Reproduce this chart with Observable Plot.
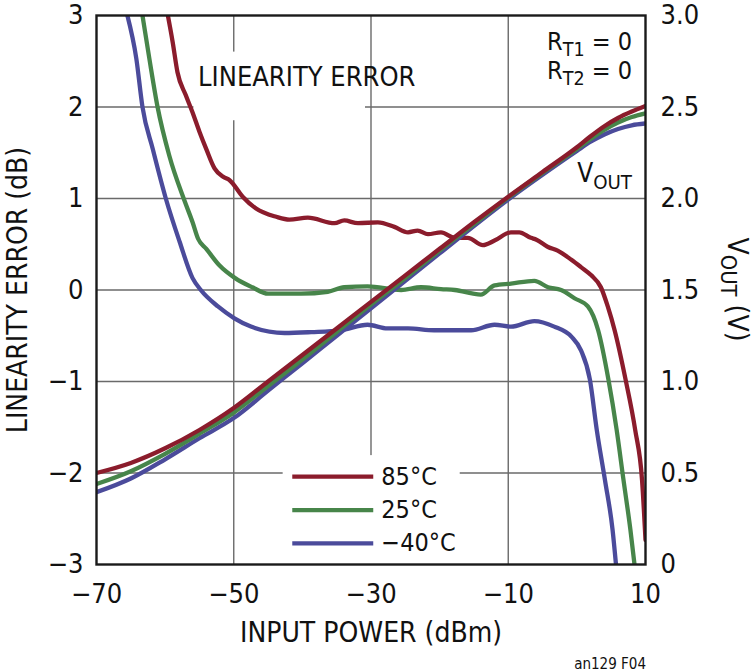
<!DOCTYPE html>
<html>
<head>
<meta charset="utf-8">
<script src="https://cdn.jsdelivr.net/npm/d3@7"></script>
<script src="https://cdn.jsdelivr.net/npm/@observablehq/plot@0.6"></script>
<style>
  html, body { margin: 0; padding: 0; background: #fff; }
  #chart { width: 754px; height: 672px; }
</style>
</head>
<body>
<div id="chart"></div>
<script>
// ---- data ----
const xTicks = [-70, -50, -30, -10, 10];
const yErrTicks = [-3, -2, -1, 0, 1, 2, 3];
const voutTickLabels = ["0", "0.5", "1.0", "1.5", "2.0", "2.5", "3.0"];
const seriesNames = ["85°C", "25°C", "−40°C"];
const seriesColors = ["#8b1c2c", "#47854a", "#4b4b9b"];

// Linearity error (dB) vs input power (dBm)
const err85 = [[-59.6,3.0],[-58.9,2.71],[-58.2,2.38],[-57.0,2.13],[-56.0,1.94],[-55.0,1.73],[-54.0,1.54],[-52.8,1.33],[-51.6,1.24],[-50.6,1.20],[-48.7,1.02],[-46.75,0.89],[-43.8,0.80],[-41.9,0.77],[-39.2,0.79],[-35.3,0.73],[-33.9,0.76],[-31.9,0.73],[-29.0,0.74],[-26.6,0.69],[-24.6,0.63],[-23.2,0.65],[-21.7,0.61],[-19.8,0.63],[-17.8,0.57],[-15.9,0.57],[-13.7,0.49],[-12.0,0.54],[-9.6,0.63],[-8.4,0.63],[-6.7,0.57],[-5.9,0.55],[-4.2,0.47],[-2.8,0.43],[-0.8,0.33],[0.6,0.25],[2.1,0.16],[3.5,0.03],[4.5,-0.18],[5.5,-0.44],[7.1,-0.98],[8.5,-1.53],[9.5,-2.08],[10,-2.73]];
const err25 = [[-63.3,3.0],[-62.3,2.53],[-61.1,2.0],[-59.4,1.47],[-57.2,0.98],[-56.0,0.74],[-55.2,0.56],[-54.0,0.45],[-52.1,0.27],[-49.8,0.13],[-47.3,0.03],[-45.0,-0.04],[-40.2,-0.04],[-36.3,-0.02],[-33.9,0.03],[-30.5,0.04],[-25.6,0.0],[-22.7,0.03],[-19.8,0.01],[-17.8,0.0],[-14.0,-0.05],[-12.0,0.05],[-9.6,0.07],[-6.2,0.10],[-4.2,0.03],[-2.3,0.0],[-0.35,-0.09],[1.6,-0.18],[3.1,-0.44],[4.6,-0.98],[5.8,-1.53],[6.8,-2.08],[7.8,-2.62],[8.4,-3.0]];
const errM40 = [[-65.5,3.0],[-64.2,2.53],[-63.3,2.0],[-61.8,1.54],[-59.9,1.0],[-57.9,0.53],[-56.0,0.13],[-54.8,0.0],[-52.3,-0.18],[-49.9,-0.31],[-47.5,-0.40],[-42.6,-0.47],[-38.7,-0.46],[-34.4,-0.44],[-30.5,-0.38],[-27.6,-0.42],[-24.6,-0.42],[-20.8,-0.44],[-15.4,-0.44],[-12.0,-0.38],[-9.6,-0.40],[-6.2,-0.34],[-3.3,-0.40],[-0.8,-0.51],[0.6,-0.66],[1.9,-0.98],[2.9,-1.53],[4.1,-2.08],[5.2,-2.62],[5.7,-3.0]];

// VOUT (V) vs input power (dBm)
const vout85 = [[-70,0.50],[-65,0.555],[-60,0.635],[-55,0.735],[-50,0.855],[-45,1.0],[-40,1.145],[-35,1.29],[-30,1.435],[-25,1.58],[-20,1.725],[-15,1.87],[-10,2.01],[-5,2.145],[0,2.28],[2,2.34],[4,2.395],[6,2.44],[8,2.475],[10,2.505]];
const vout25 = [[-70,0.44],[-65,0.51],[-60,0.605],[-55,0.715],[-50,0.83],[-45,0.975],[-40,1.12],[-35,1.27],[-30,1.42],[-25,1.565],[-20,1.715],[-15,1.86],[-10,2.005],[-5,2.14],[0,2.27],[2,2.325],[4,2.375],[6,2.415],[8,2.445],[10,2.465]];
const voutM40 = [[-70,0.395],[-65,0.47],[-60,0.575],[-55,0.69],[-50,0.80],[-45,0.95],[-40,1.10],[-35,1.25],[-30,1.40],[-25,1.55],[-20,1.70],[-15,1.85],[-10,1.995],[-5,2.13],[0,2.26],[2,2.31],[4,2.35],[6,2.38],[8,2.40],[10,2.41]];

// ---- build tables ----
const errSeries = [err85, err25, errM40];
const voutSeries = [vout85, vout25, voutM40];
// right axis maps VOUT 0..3 V onto the left scale -3..3 dB
const voutToErr = v => v * 2 - 3;

const errRows = [];
errSeries.forEach((s, i) => s.forEach(([x, y]) => errRows.push({x, y, name: seriesNames[i]})));
const voutRows = [];
voutSeries.forEach((s, i) => s.forEach(([x, v]) => voutRows.push({x, y: voutToErr(v), name: seriesNames[i]})));
const drawOrder = [2, 1, 0]; // blue, green, red on top

const legendRows = seriesNames.map((name, i) => ({name, color: seriesColors[i], y: -2.04 - i * 0.365}));

const FONT = "'Liberation Sans Narrow', 'Arial Narrow', 'DejaVu Sans Condensed', sans-serif";
const fmtMinus = d => (d < 0 ? "\u2212" + Math.abs(d) : String(d));

const marks = [
  Plot.gridX([-50, -30, -10], {stroke: "#6a6a6a", strokeOpacity: 1, strokeWidth: 1.4}),
  Plot.gridY([-2, -1, 0, 1, 2], {stroke: "#6a6a6a", strokeOpacity: 1, strokeWidth: 1.4}),
  // white boxes behind in-plot text
  Plot.rect([{x1: -42.8, x2: -17.0, y1: -3, y2: -1.81}], {x1: "x1", x2: "x2", y1: "y1", y2: "y2", fill: "white"}),
  Plot.rect([{x1: -55.8, x2: -30.8, y1: 1.85, y2: 2.6}], {x1: "x1", x2: "x2", y1: "y1", y2: "y2", fill: "white"}),
];
for (const i of drawOrder) {
  marks.push(Plot.line(errRows.filter(d => d.name === seriesNames[i]), {x: "x", y: "y", stroke: seriesColors[i], strokeWidth: 4.3, curve: "monotone-x", clip: true}));
}
for (const i of drawOrder) {
  marks.push(Plot.line(voutRows.filter(d => d.name === seriesNames[i]), {x: "x", y: "y", stroke: seriesColors[i], strokeWidth: 4.3, curve: "monotone-x", clip: true}));
}
marks.push(
  // legend
  Plot.ruleY(legendRows, {y: "y", x1: -41.4, x2: -29.6, stroke: "color", strokeWidth: 4.3}),
  Plot.text(legendRows, {y: "y", x: -28.5, text: "name", textAnchor: "start", fontSize: 25, fill: "#111"}),
  Plot.text(["LINEARITY ERROR"], {x: -55.2, y: 2.32, textAnchor: "start", fontSize: 27, fill: "#111"}),
  Plot.axisX({ticks: xTicks, tickSize: 0, tickPadding: 19, tickFormat: fmtMinus, label: null, fontSize: 27, fill: "#111"}),
  Plot.axisY({ticks: yErrTicks, tickSize: 0, tickPadding: 13, tickFormat: fmtMinus, label: null, fontSize: 27, fill: "#111"}),
  Plot.axisY({anchor: "right", ticks: yErrTicks, tickSize: 0, tickPadding: 15, tickFormat: d => voutTickLabels[yErrTicks.indexOf(d)], label: null, fontSize: 27, fill: "#111"}),
  Plot.frame({stroke: "#1a1a1a", strokeWidth: 2.4}),
  Plot.text(["INPUT POWER (dBm)"], {frameAnchor: "bottom", dy: 77, textAnchor: "middle", fontSize: 28, fill: "#111"}),
  Plot.text(["LINEARITY ERROR (dB)"], {frameAnchor: "left", textAnchor: "middle", rotate: -90, dx: -78, fontSize: 28, fill: "#111"})
);

const plot = Plot.plot({
  width: 754,
  height: 672,
  marginLeft: 96,
  marginRight: 109,
  marginTop: 15,
  marginBottom: 108,
  x: {domain: [-70, 10]},
  y: {domain: [-3, 3]},
  style: {fontFamily: FONT, fontSize: "27px", background: "white", color: "#111"},
  marks
});
document.getElementById("chart").appendChild(plot);

// ---- texts with subscripts ----
const svg = d3.select(plot);
const sx = plot.scale("x"), sy = plot.scale("y");
function subText(x, y, main, sub, tail, size, anchor, rotate) {
  const t = svg.append("text")
    .attr("font-family", FONT).attr("font-size", size).attr("fill", "#111")
    .attr("text-anchor", anchor);
  if (rotate) t.attr("transform", `translate(${x},${y}) rotate(${rotate})`);
  else t.attr("x", x).attr("y", y);
  t.append("tspan").text(main);
  t.append("tspan").attr("font-size", size * 0.78).attr("dy", size * 0.25).text(sub);
  if (tail) t.append("tspan").attr("dy", -size * 0.25).text(tail);
  return t;
}
const xr = sx.apply(10) - 13;
subText(xr, sy.apply(2.62), "R", "T1", " = 0", 25, "end");
subText(xr, sy.apply(2.3), "R", "T2", " = 0", 25, "end");
subText(xr, sy.apply(1.0) - 16, "V", "OUT", null, 26, "end");
// right axis title
subText(728, sy.apply(0), "V", "OUT", " (V)", 28, "middle", 90);
// figure code
svg.append("text").attr("x", 646).attr("y", 669).attr("text-anchor", "end")
  .attr("font-family", FONT).attr("font-size", 15).attr("fill", "#111").text("an129 F04");
</script>
</body>
</html>
